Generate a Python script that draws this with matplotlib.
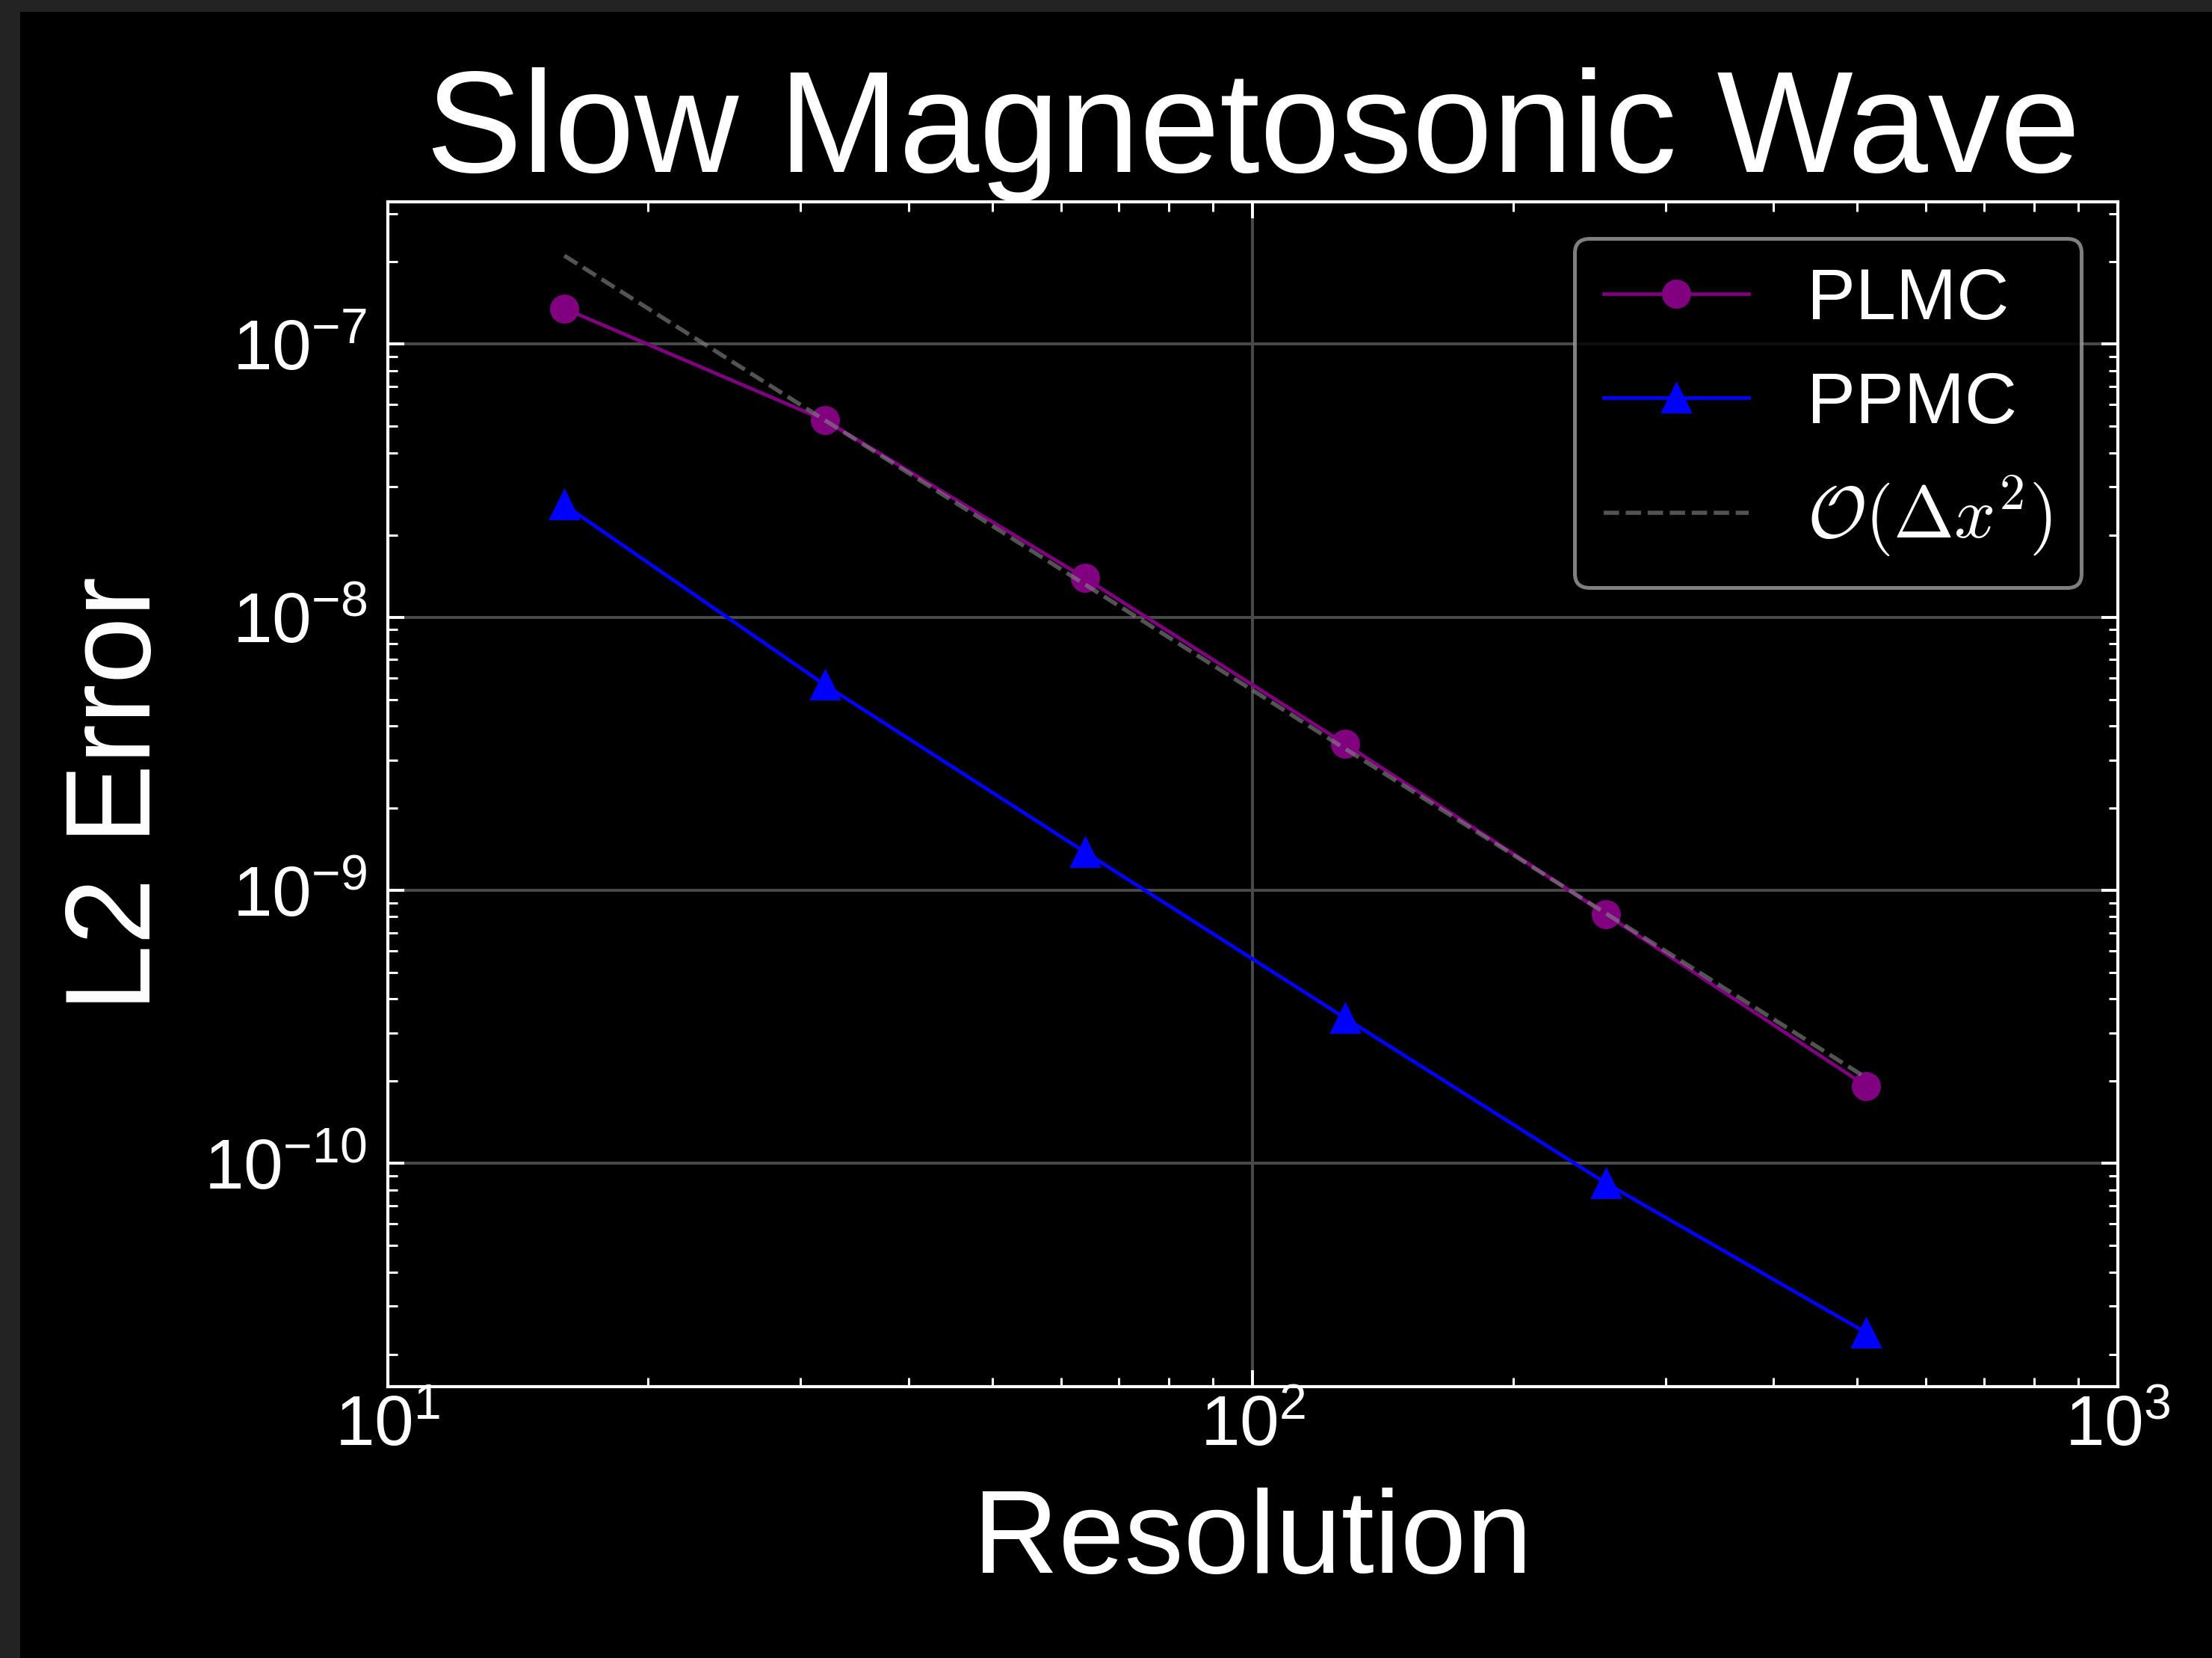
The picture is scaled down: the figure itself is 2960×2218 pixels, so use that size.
import numpy as np
import matplotlib.pyplot as plt
from matplotlib.patches import Rectangle

resolution = np.array([16, 32, 64, 128, 256, 512])
plmc_err = np.array([1.35e-7, 5.27e-8, 1.39e-8, 3.43e-9, 8.17e-10, 1.92e-10])
ppmc_err = np.array([2.58e-8, 5.66e-9, 1.38e-9, 3.40e-10, 8.47e-11, 2.40e-11])

# second order reference, pinned to the PLMC point at N=32
ref_err = plmc_err[1] * (resolution[1] / resolution) ** 2

plt.style.use("dark_background")
plt.rcParams["font.family"] = ["Liberation Sans", "DejaVu Sans"]
plt.rcParams["mathtext.fontset"] = "cm"

fig = plt.figure(figsize=(14.8, 11.09), dpi=200)
fig.patch.set_facecolor("black")
# screenshot edge
fig.patches.append(Rectangle((0, 0), 25 / 2960, 1, transform=fig.transFigure,
                             color="#232323", zorder=-1))
fig.patches.append(Rectangle((0, 1 - 14 / 2218), 1, 14 / 2218, transform=fig.transFigure,
                             color="#232323", zorder=-1))

ax = fig.add_axes([0.1753, 0.1637, 0.9574 - 0.1753, 0.8783 - 0.1637])
ax.set_facecolor("black")

ax.plot(resolution, plmc_err, color="purple", marker="o", ms=13, lw=1.7, label="PLMC")
ax.plot(resolution, ppmc_err, color="blue", marker="^", ms=14, lw=1.7, label="PPMC")
ax.plot(resolution, ref_err, color="gray", alpha=0.65, ls="--", lw=2, label=r"$\mathcal{O}(\Delta x^2)$")

ax.set_xscale("log")
ax.set_yscale("log")
ax.set_xlim(10, 1000)

ax.grid(True, which="major", color="#4a4a4a", lw=1.4)
ax.set_axisbelow(True)

for s in ax.spines.values():
    s.set_color("white")
    s.set_linewidth(1.5)
ax.tick_params(which="both", direction="in", top=True, right=True, colors="white", labelsize=34)
ax.tick_params(which="major", length=8, width=1.4)
ax.tick_params(which="minor", length=4.5, width=1.1)
ax.tick_params(axis="y", pad=10)

ax.set_title("Slow Magnetosonic Wave", fontsize=69.5, color="white", pad=8)
ax.set_xlabel("Resolution", fontsize=57, labelpad=13)
ax.set_ylabel("L2 Error", fontsize=58, labelpad=14)

leg = ax.legend(loc="upper right", fontsize=35, fancybox=True, facecolor="black",
                edgecolor="#a0a0a0", framealpha=0.8)
leg.get_frame().set_linewidth(1.8)

fig.savefig("out.png", dpi=200, facecolor=fig.get_facecolor())
